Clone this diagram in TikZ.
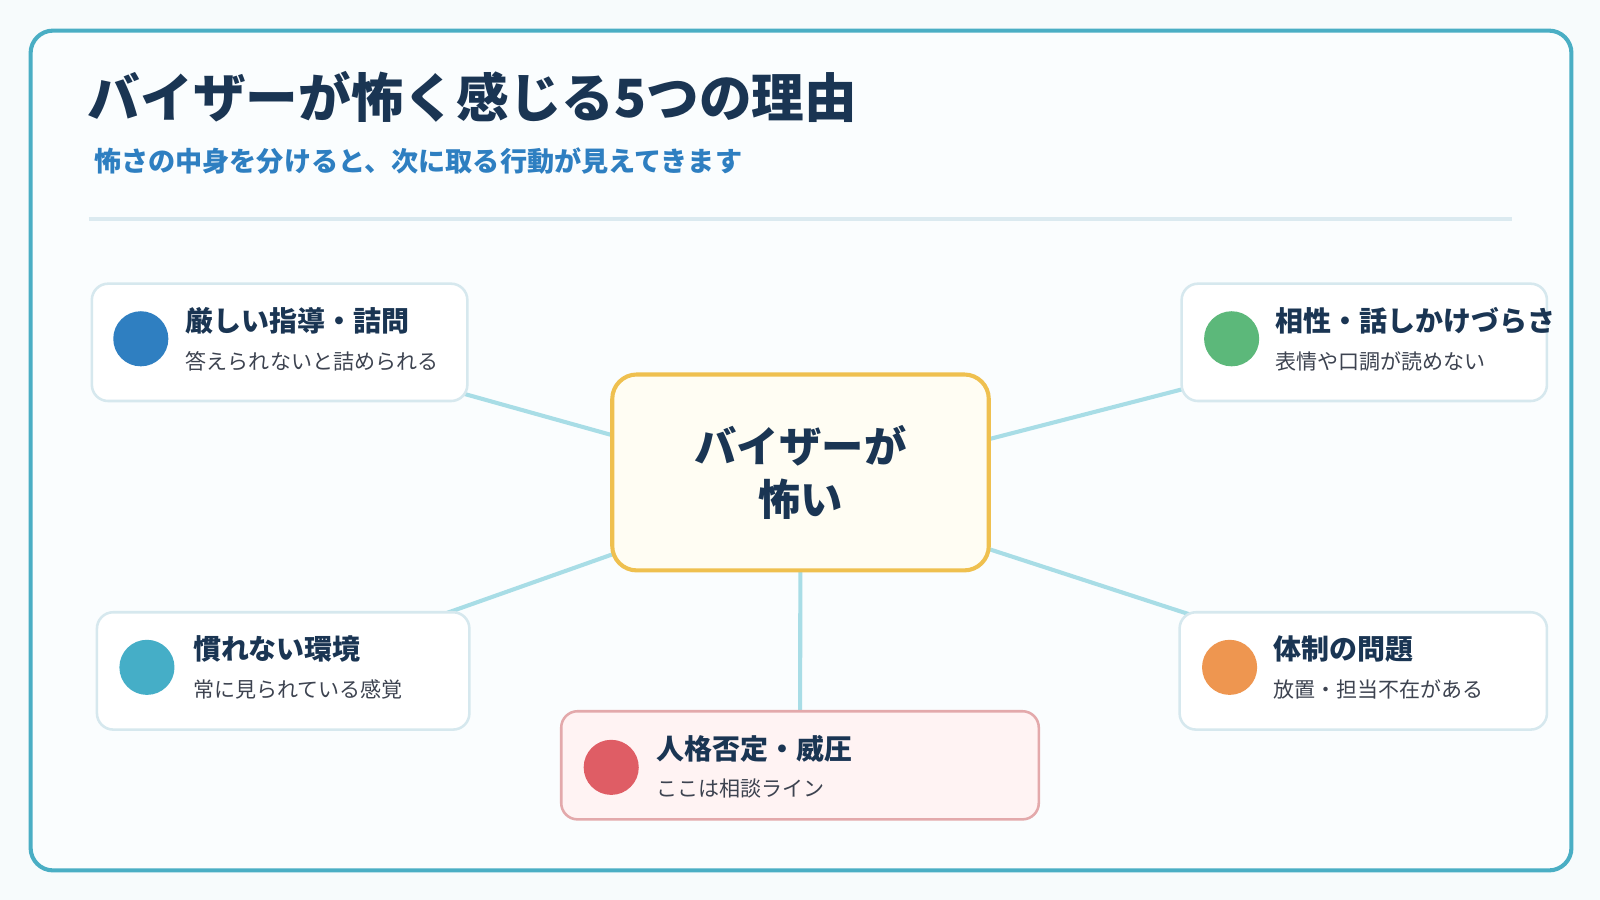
\documentclass[tikz,border=0pt]{standalone}
\usepackage{fontspec}
\setmainfont{Noto Sans CJK JP}
\newfontfamily\heavyfont{Noto Sans CJK JP Black}
\usetikzlibrary{backgrounds}
\definecolor{bgc}{HTML}{F7FBFC}
\definecolor{framein}{HTML}{FAFDFE}
\definecolor{framec}{HTML}{4AAEC4}
\definecolor{navy}{HTML}{1A3553}
\definecolor{subblue}{HTML}{2E7FC1}
\definecolor{divc}{HTML}{DBEAF0}
\definecolor{boxline}{HTML}{D6E8EE}
\definecolor{subgray}{HTML}{3D4350}
\definecolor{linkc}{HTML}{A8DDE6}
\definecolor{cfill}{HTML}{FFFDF3}
\definecolor{cline}{HTML}{EFC04F}
\definecolor{pfill}{HTML}{FFF3F3}
\definecolor{pline}{HTML}{E3A9AB}
\definecolor{c1}{HTML}{2F7FC1}
\definecolor{c2}{HTML}{5CB87A}
\definecolor{c3}{HTML}{45AEC7}
\definecolor{c4}{HTML}{EE9650}
\definecolor{c5}{HTML}{DF5D65}
\begin{document}
\begin{tikzpicture}[x=1pt,y=-1pt,
  cardbox/.style={draw=boxline, line width=2.5pt, fill=white, rounded corners=16pt, minimum height=115pt, inner sep=0pt},
  markdot/.style={circle, inner sep=0pt, minimum size=54pt},
  ttl/.style={anchor=west, inner sep=0pt, text=navy, font=\bfseries\fontsize{27.4}{32}\selectfont},
  subtxt/.style={anchor=west, inner sep=0pt, text=subgray, font=\fontsize{20.6}{24}\selectfont},
  conn/.style={draw=linkc, line width=4pt}]
\useasboundingbox (0,0) rectangle (1568,882);

% title
\node[anchor=west, inner sep=0pt, text=navy, font=\heavyfont\fontsize{51.6}{56}\selectfont] (title) at (86,95) {バイザーが怖く感じる5つの理由};
\node[anchor=west, inner sep=0pt, text=subblue, font=\bfseries\fontsize{26.6}{30}\selectfont] (subtitle) at (92,158) {怖さの中身を分けると、次に取る行動が見えてきます};
\coordinate (dl) at (87,215);
\coordinate (dr) at (1482,215);
\draw[divc, line width=4pt] (dl) -- (dr);

% centre
\node[draw=cline, fill=cfill, line width=4pt, rounded corners=24pt, minimum width=369pt, minimum height=192pt, inner sep=0pt,
  align=center, text=navy, font=\heavyfont\fontsize{41.5}{52}\selectfont] (hub) at (784.5,463) {バイザーが\\怖い};
\coordinate (hubsrc) at (784.5,478);

% TL
\node[cardbox, minimum width=368pt] (tl) at (274,335.5) {};
\node[markdot, fill=c1] (tld) at (138,332) {};
\node[ttl] (tlt) at (182,314) {厳しい指導・詰問};
\node[subtxt] (tls) at (182,354) {答えられないと詰められる};

% TR
\node[cardbox, minimum width=358pt] (tr) at (1337,335.5) {};
\node[markdot, fill=c2] (trd) at (1207,332) {};
\node[ttl] (trt) at (1250,314) {相性・話しかけづらさ};
\node[subtxt] (trs) at (1250,354) {表情や口調が読めない};

% BL
\node[cardbox, minimum width=365pt] (bl) at (277.5,657.5) {};
\node[markdot, fill=c3] (bld) at (144,654) {};
\node[ttl] (blt) at (189,636) {慣れない環境};
\node[subtxt] (bls) at (189,676) {常に見られている感覚};

% BR
\node[cardbox, minimum width=360pt] (br) at (1336,657.5) {};
\node[markdot, fill=c4] (brd) at (1205,654) {};
\node[ttl] (brt) at (1248,636) {体制の問題};
\node[subtxt] (brs) at (1248,676) {放置・担当不在がある};

% bottom
\node[cardbox, draw=pline, fill=pfill, minimum width=468pt, minimum height=106pt] (bm) at (784,750) {};
\node[markdot, fill=c5] (bmd) at (599,752) {};
\node[ttl] (bmt) at (643,734) {人格否定・威圧};
\node[subtxt] (bms) at (643,773) {ここは相談ライン};

\begin{pgfonlayer}{background}
\fill[bgc] (0,0) rectangle (1568,882);
\draw[framec, fill=framein, line width=4pt, rounded corners=22pt] (30,30) rectangle (1540,853);
\draw[conn] (hubsrc) -- (tl.center);
\draw[conn] (hubsrc) -- (tr.center);
\draw[conn] (hubsrc) -- (bl.center);
\draw[conn] (hubsrc) -- (br.center);
\draw[conn] (hubsrc) -- (bm.center);
\end{pgfonlayer}
\end{tikzpicture}
\end{document}
